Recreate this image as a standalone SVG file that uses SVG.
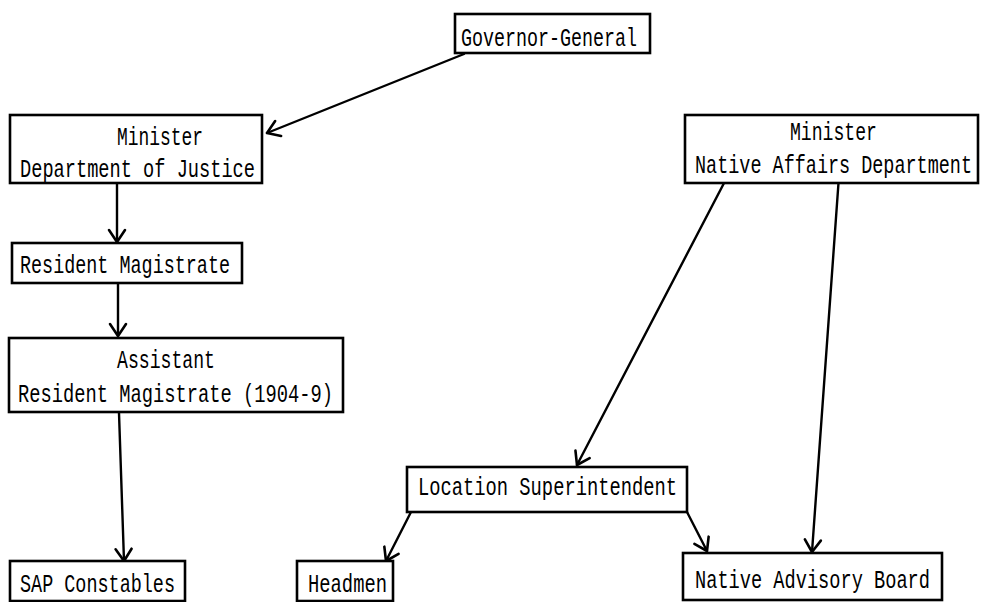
<svg xmlns="http://www.w3.org/2000/svg" width="982" height="602" viewBox="0 0 982 602">
<defs>
<marker id="arr" markerUnits="userSpaceOnUse" markerWidth="30" markerHeight="30" viewBox="-15 -15 30 30" refX="0" refY="0" orient="auto">
<path d="M-12,-8 L0,0 L-12,8" fill="none" stroke="#000" stroke-width="2.6" stroke-linecap="round" stroke-linejoin="round"/>
</marker>
<style>
.box{fill:#fff;stroke:#000;stroke-width:2.6}
.t{font-family:"Liberation Mono","DejaVu Sans Mono",monospace;font-size:25px;fill:#000}
.c line{stroke:#000;stroke-width:2.4;stroke-linecap:round;marker-end:url(#arr)}
</style>
</defs>
<rect width="982" height="602" fill="#fff"/>
<g class="c" id="connectors">
<line x1="464" y1="54" x2="267" y2="133"/>
<line x1="117" y1="184" x2="117" y2="242"/>
<line x1="118" y1="284" x2="118" y2="336"/>
<line x1="119" y1="413" x2="124" y2="561"/>
<line x1="735" y1="162" x2="577" y2="465"/>
<line x1="840" y1="162" x2="812" y2="552"/>
<line x1="411" y1="512" x2="386" y2="561"/>
<line x1="687" y1="512" x2="707" y2="551"/>
</g>
<g id="governor-general">
<rect class="box" x="455" y="14" width="195" height="39"/>
<text class="t" x="461" y="46" textLength="176" lengthAdjust="spacingAndGlyphs">Governor-General</text>
</g>
<g id="minister-justice">
<rect class="box" x="10" y="115" width="252" height="68"/>
<text class="t" x="117" y="145" textLength="86" lengthAdjust="spacingAndGlyphs">Minister</text>
<text class="t" x="20" y="177" textLength="235" lengthAdjust="spacingAndGlyphs">Department of Justice</text>
</g>
<g id="resident-magistrate">
<rect class="box" x="12" y="243" width="230" height="40"/>
<text class="t" x="20" y="273" textLength="210" lengthAdjust="spacingAndGlyphs">Resident Magistrate</text>
</g>
<g id="assistant-rm">
<rect class="box" x="9" y="338" width="334" height="74"/>
<text class="t" x="117" y="368" textLength="98" lengthAdjust="spacingAndGlyphs">Assistant</text>
<text class="t" x="18" y="402" textLength="315" lengthAdjust="spacingAndGlyphs">Resident Magistrate (1904-9)</text>
</g>
<g id="sap-constables">
<rect class="box" x="10" y="561" width="175" height="40"/>
<text class="t" x="20" y="592" textLength="155" lengthAdjust="spacingAndGlyphs">SAP Constables</text>
</g>
<g id="minister-native">
<rect class="box" x="685" y="115" width="293" height="68"/>
<text class="t" x="790" y="140" textLength="87" lengthAdjust="spacingAndGlyphs">Minister</text>
<text class="t" x="695" y="173" textLength="277" lengthAdjust="spacingAndGlyphs">Native Affairs Department</text>
</g>
<g id="location-superintendent">
<rect class="box" x="407" y="467" width="280" height="45"/>
<text class="t" x="418" y="495" textLength="259" lengthAdjust="spacingAndGlyphs">Location Superintendent</text>
</g>
<g id="headmen">
<rect class="box" x="297" y="561" width="96" height="40"/>
<text class="t" x="308" y="592" textLength="79" lengthAdjust="spacingAndGlyphs">Headmen</text>
</g>
<g id="native-advisory-board">
<rect class="box" x="683" y="553" width="259" height="47"/>
<text class="t" x="695" y="588" textLength="235" lengthAdjust="spacingAndGlyphs">Native Advisory Board</text>
</g>
</svg>
